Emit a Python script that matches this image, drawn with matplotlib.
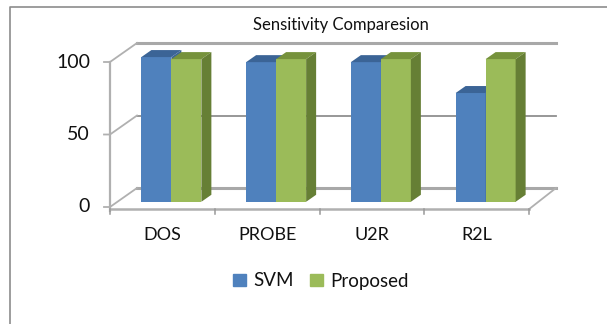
import matplotlib
matplotlib.use('Agg')
import matplotlib.pyplot as plt
from matplotlib.patches import Patch

categories = ['DOS', 'PROBE', 'U2R', 'R2L']
svm = [99.8, 96.3, 96.3, 75]
proposed = [98.4, 98.4, 98.4, 98.4]
y_ticks = [0, 50, 100]

W, H = 607, 324
plt.rcParams['font.family'] = ['Lato', 'DejaVu Sans']

fig = plt.figure(figsize=(W / 100, H / 100), dpi=100)
# eixo = plano frontal do grafico 3D (em pixels da imagem)
ax = fig.add_axes([110 / W, 1 - 207 / H, 419 / W, 145 / H])
ax.set_xlim(-0.5, 3.5)
ax.set_ylim(0, 100)
ax.axis('off')

# moldura da figura (so esquerda e topo aparecem)
fig.add_artist(plt.Line2D([9.5 / W, 9.5 / W, 1], [0, 1 - 6.5 / H, 1 - 6.5 / H],
                          color='#8c8c8c', lw=1.2))

px = 4 / 419      # 1 pixel em unidades de x
py = 100 / 145    # 1 pixel em unidades de y

wall_dx, wall_dy = 27 * px, 19 * py
gray = '#b0b0b0'
x0, x1 = -0.5, 3.5

# paredes e grade
for v in y_ticks:
    lw = 2.2 if v != 50 else 1.3
    color = '#a8a8a8' if v != 50 else '#8f8f8f'
    ax.plot([x0 + wall_dx, x1 + wall_dx], [v + wall_dy, v + wall_dy], color=color, lw=lw, clip_on=False)
    ax.plot([x0 - 6 * px, x0, x0 + wall_dx], [v, v, v + wall_dy], color=gray, lw=1.3, clip_on=False)
ax.plot([x1, x1 + wall_dx], [-1.5, wall_dy], color=gray, lw=1.3, clip_on=False)
ax.plot([x0, x0], [-3, 100], color=gray, lw=1.6, clip_on=False)
ax.plot([x0, x1], [-1.5, -1.5], color=gray, lw=1.8, clip_on=False)
for i in range(5):
    ax.plot([x0 + i, x0 + i], [-1.5, -5], color='#999999', lw=1.1, clip_on=False)

# barras (frente, topo e lateral)
bar_w = 30 * px
off_x, off_y = 9 * px, 3.6
dep_x, dep_y = 10 * px, 7 * py


def draw_bar(left, value, front, top, side):
    base = off_y
    ax.bar(left, value, width=bar_w, bottom=base, align='edge', color=front, clip_on=False, zorder=3)
    ax.fill([left, left + bar_w, left + bar_w + dep_x, left + dep_x],
            [base + value, base + value, base + value + dep_y, base + value + dep_y],
            color=top, lw=0, clip_on=False, zorder=3)
    ax.fill([left + bar_w, left + bar_w + dep_x, left + bar_w + dep_x, left + bar_w],
            [base, base + dep_y, base + value + dep_y, base + value],
            color=side, lw=0, clip_on=False, zorder=3)


for i in range(len(categories)):
    draw_bar(i + off_x - bar_w, svm[i], '#4f81bd', '#3b6496', '#3b6496')
    draw_bar(i + off_x, proposed[i], '#9bbb59', '#76923c', '#667f35')

for i, c in enumerate(categories):
    ax.text(i, -19.3, c, ha='center', va='center', fontsize=13, color='#111111', clip_on=False)
for v in y_ticks:
    ax.text(x0 - 20 * px, v, str(v), ha='right', va='center', fontsize=14, color='#111111', clip_on=False)

fig.text(341 / W, 1 - 25 / H, 'Sensitivity Comparesion', ha='center', va='center', fontsize=12, color='#111111')

handles = [Patch(color='#4f81bd', label='SVM'), Patch(color='#9bbb59', label='Proposed')]
fig.legend(handles=handles, loc='center', bbox_to_anchor=(321 / W, 1 - 281 / H), ncol=2, frameon=False,
           fontsize=13.5, handlelength=0.65, handleheight=0.65, handletextpad=0.4, columnspacing=0.9,
           labelcolor='#111111')

fig.savefig('out.png', dpi=100)
